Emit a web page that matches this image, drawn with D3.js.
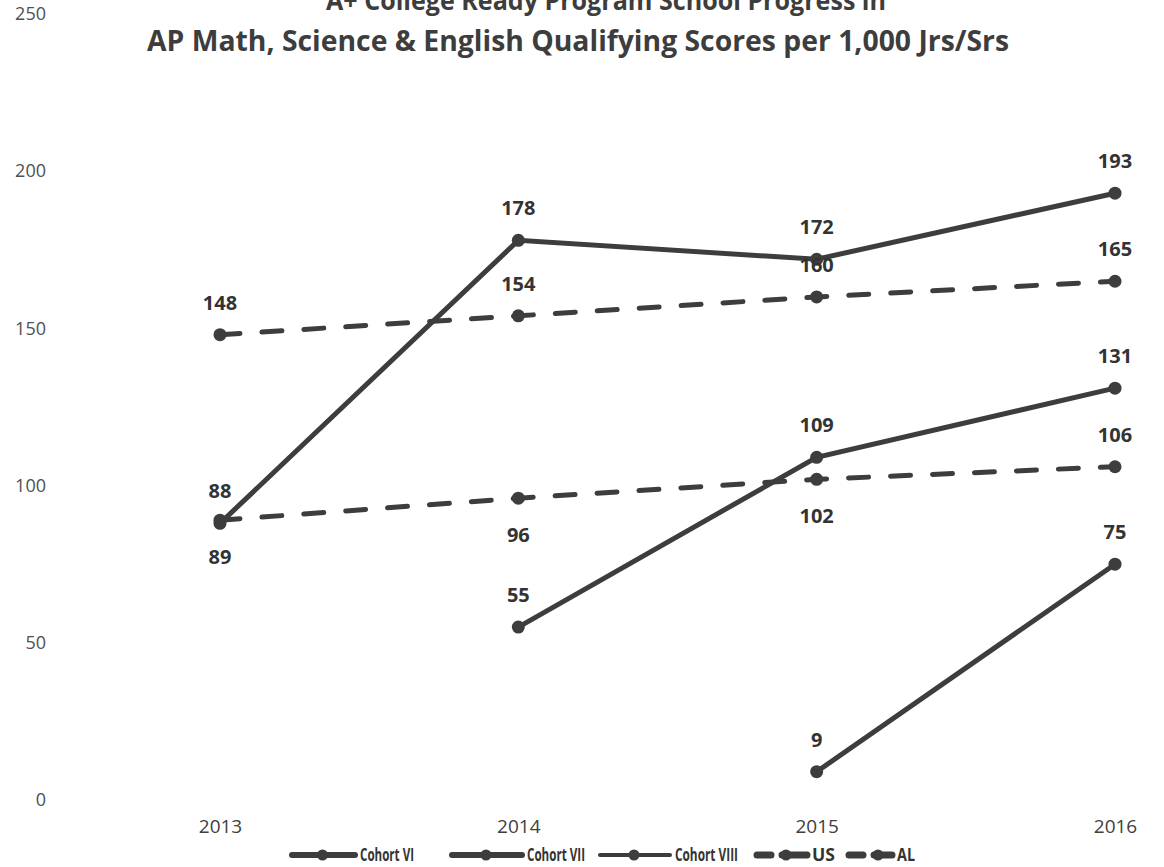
<!DOCTYPE html>
<html>
<head>
<meta charset="utf-8">
<script src="https://cdn.jsdelivr.net/npm/d3@7"></script>
<style>
  body { margin: 0; background: #fff; }
  svg { display: block; }
  text { font-family: 'Open Sans', sans-serif; }
</style>
</head>
<body>
<div id="chart"></div>
<script>
// chart values
var years = ['2013', '2014', '2015', '2016']
var yTicks = [0, 50, 100, 150, 200, 250]

var cohortVI = [88, 178, 172, 193]
var cohortVII = [null, 55, 109, 131]
var cohortVIII = [null, null, 9, 75]
var usValues = [148, 154, 160, 165]
var alValues = [89, 96, 102, 106]

// label placement: -1 above, 1 below
var cohortVIPos = [-1, -1, -1, -1]
var cohortVIIPos = [-1, -1, -1, -1]
var cohortVIIIPos = [-1, -1, -1, -1]
var usPos = [-1, -1, -1, -1]
var alPos = [1, 1, 1, -1]

var seriesNames = ['Cohort VI', 'Cohort VII', 'Cohort VIII', 'US', 'AL']

var width = 1164, height = 867
var margin = { top: 14, right: 49, bottom: 67, left: 220 }

var svg = d3.select('#chart')
  .append('svg')
  .attr('width', width)
  .attr('height', height)

var x = d3.scalePoint()
  .domain(years)
  .range([margin.left, width - margin.right])

var y = d3.scaleLinear()
  .domain([0, 250])
  .range([height - margin.bottom, margin.top])

var ink = '#3d3d3d'

// title (top line is cut off by the edge of the page, as in the scan)
svg.append('text')
  .attr('x', 606)
  .attr('y', 10)
  .attr('text-anchor', 'middle')
  .style('font-size', '27px')
  .style('font-weight', 700)
  .style('fill', ink)
  .attr('textLength', 560)
  .attr('lengthAdjust', 'spacingAndGlyphs')
  .text('A+ College Ready Program School Progress in')

svg.append('text')
  .attr('x', 578)
  .attr('y', 51)
  .attr('text-anchor', 'middle')
  .style('font-size', '28px')
  .style('font-weight', 700)
  .style('fill', ink)
  .attr('textLength', 862)
  .attr('lengthAdjust', 'spacingAndGlyphs')
  .text('AP Math, Science & English Qualifying Scores per 1,000 Jrs/Srs')

// y axis labels
var yAxis = svg.append('g')
  .attr('transform', 'translate(46,0)')
  .call(d3.axisLeft(y).tickValues(yTicks).tickSize(0).tickPadding(0))
yAxis.select('.domain').remove()
yAxis.selectAll('text')
  .style('font-size', '18px')
  .style('font-family', "'Open Sans', sans-serif")
  .style('fill', '#505050')

// x axis labels
var xAxis = svg.append('g')
  .attr('transform', 'translate(0,' + (height - margin.bottom) + ')')
  .call(d3.axisBottom(x).tickSize(0).tickPadding(20))
xAxis.select('.domain').remove()
xAxis.selectAll('text')
  .style('font-size', '19px')
  .style('font-family', "'Open Sans', sans-serif")
  .style('fill', '#404040')

var series = [
  { name: 'Cohort VI', values: cohortVI, pos: cohortVIPos, dash: null },
  { name: 'Cohort VII', values: cohortVII, pos: cohortVIIPos, dash: null },
  { name: 'Cohort VIII', values: cohortVIII, pos: cohortVIIIPos, dash: null },
  { name: 'US', values: usValues, pos: usPos, dash: '20,22' },
  { name: 'AL', values: alValues, pos: alPos, dash: '20,22' }
]

var line = d3.line()
  .defined(function (d) { return d.v !== null })
  .x(function (d) { return x(d.year) })
  .y(function (d) { return y(d.v) })

series.forEach(function (s) {
  var pts = s.values.map(function (v, i) {
    return { year: years[i], v: v, pos: s.pos[i] }
  })
  var g = svg.append('g').attr('class', 'series')

  g.append('path')
    .datum(pts)
    .attr('d', line)
    .attr('fill', 'none')
    .attr('stroke', ink)
    .attr('stroke-width', 5)
    .attr('stroke-linecap', 'round')
    .attr('stroke-dasharray', s.dash)

  var valid = pts.filter(function (d) { return d.v !== null })

  g.selectAll('circle')
    .data(valid)
    .enter()
    .append('circle')
    .attr('cx', function (d) { return x(d.year) })
    .attr('cy', function (d) { return y(d.v) })
    .attr('r', 6.5)
    .attr('fill', ink)

  g.selectAll('.label')
    .data(valid)
    .enter()
    .append('text')
    .attr('class', 'label')
    .attr('x', function (d) { return x(d.year) })
    .attr('y', function (d) { return y(d.v) + (d.pos < 0 ? -25 : 44) })
    .attr('text-anchor', 'middle')
    .style('font-size', '20px')
    .style('font-weight', 700)
    .style('fill', '#333')
    .text(function (d) { return d.v })
})

// legend
var legendX = [290, 450, 598, 755, 847]
var legendW = [65, 72, 72, 52, 45]
var legendTextW = [54, 58, 63, 23, 18]
var legend = svg.append('g').attr('transform', 'translate(0,855)')

seriesNames.forEach(function (name, i) {
  var item = legend.append('g').attr('transform', 'translate(' + legendX[i] + ',0)')
  var dashed = name === 'US' || name === 'AL'
  if (dashed) {
    item.append('line')
      .attr('x1', 2).attr('x2', 16)
      .attr('stroke', ink).attr('stroke-width', 7).attr('stroke-linecap', 'round')
    item.append('line')
      .attr('x1', 27).attr('x2', legendW[i])
      .attr('stroke', ink).attr('stroke-width', 7).attr('stroke-linecap', 'round')
  } else {
    item.append('line')
      .attr('x1', 2).attr('x2', legendW[i])
      .attr('stroke', ink).attr('stroke-width', name === 'Cohort VIII' ? 4 : 6)
      .attr('stroke-linecap', 'round')
  }
  item.append('circle')
    .attr('cx', dashed ? 31 : legendW[i] / 2)
    .attr('cy', 0)
    .attr('r', 5.5)
    .attr('fill', ink)
  item.append('text')
    .attr('x', legendW[i] + 5)
    .attr('y', 6)
    .style('font-size', '17px')
    .style('font-weight', 700)
    .style('fill', '#333')
    .attr('textLength', legendTextW[i])
    .attr('lengthAdjust', 'spacingAndGlyphs')
    .text(name)
})
</script>
</body>
</html>
